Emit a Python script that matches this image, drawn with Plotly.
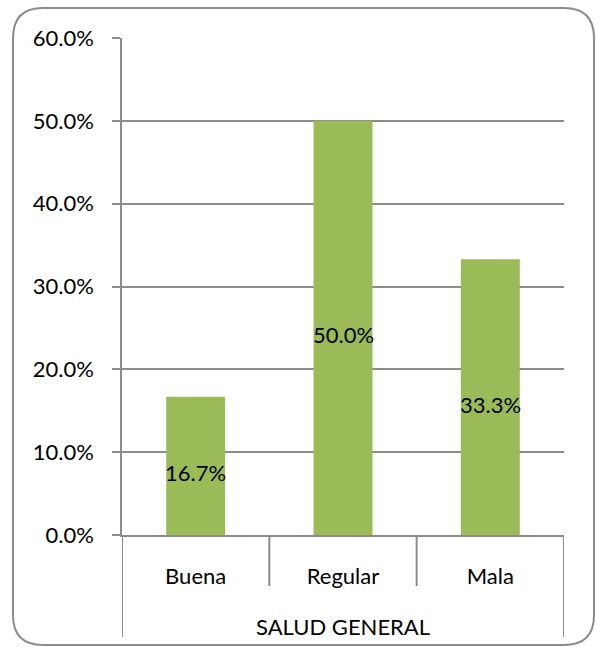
import plotly.graph_objects as go

group = "SALUD GENERAL"
categories = ["Buena", "Regular", "Mala"]
values = [16.7, 50.0, 33.3]
labels = ["16.7%", "50.0%", "33.3%"]
tick_vals = [0, 10, 20, 30, 40, 50, 60]
tick_text = ["0.0%", "10.0%", "20.0%", "30.0%", "40.0%", "50.0%", "60.0%"]

green = "#9BBB59"
grey = "#8C8C8C"
font = "Lato"
fsize = 22
plot_h = 497  # plot area height in px (647 - t - b)

fig = go.Figure()
fig.add_trace(go.Bar(x=list(range(len(categories))), y=values,
                     marker=dict(color=green, line=dict(width=0)),
                     width=0.4, hoverinfo="skip"))

# value labels centred in each bar, Excel style (allowed to overflow the bar)
for i, (v, t) in enumerate(zip(values, labels)):
    fig.add_annotation(x=i, y=v / 2, text=t, showarrow=False, yshift=-7,
                       font=dict(family=font, size=fsize, color="#000000"))

fig.update_layout(
    width=596, height=647,
    margin=dict(l=122, r=32, t=38, b=112, autoexpand=False),
    paper_bgcolor="white", plot_bgcolor="white",
    showlegend=False,
    font=dict(family=font, size=fsize, color="#000000"),
)
fig.update_xaxes(
    range=[-0.5, len(categories) - 0.5],
    tickvals=list(range(len(categories))), ticktext=categories,
    showline=True, linecolor=grey, linewidth=1.5,
    ticks="", ticklabelstandoff=21, showgrid=False, zeroline=False,
    tickfont=dict(family=font, size=fsize, color="#000000"),
)
fig.update_yaxes(
    range=[0, 60], tickvals=tick_vals, ticktext=tick_text,
    showgrid=True, gridcolor=grey, gridwidth=1.5,
    showline=True, linecolor=grey, linewidth=1.5,
    ticks="outside", ticklen=8, tickcolor=grey, tickwidth=1.5,
    ticklabelstandoff=14, zeroline=False,
    tickfont=dict(family=font, size=fsize, color="#000000"),
)

# category dividers below the axis: short between categories, long at the ends
n = len(categories)
for k in range(n + 1):
    depth = 102 if k in (0, n) else 51
    fig.add_shape(type="line", xref="x", yref="paper",
                  x0=k - 0.5, x1=k - 0.5, y0=0, y1=-depth / plot_h,
                  line=dict(color=grey, width=2))

# group label under the categories
fig.add_annotation(x=(n - 1) / 2, y=-92 / plot_h, xref="x", yref="paper",
                   text=group, showarrow=False, yanchor="middle",
                   font=dict(family=font, size=fsize, color="#000000"))

# rounded chart-area border, sized in pixels from the plot's bottom-left corner
border = ("M -79,527 L 442,527 Q 472,527 472,497 L 472,-80 Q 472,-110 442,-110 "
          "L -79,-110 Q -109,-110 -109,-80 L -109,497 Q -109,527 -79,527 Z")
fig.add_shape(type="path", path=border, xref="paper", yref="paper",
              xsizemode="pixel", ysizemode="pixel", xanchor=0, yanchor=0,
              line=dict(color=grey, width=2), layer="below")

fig.write_html("out.html", config={"displayModeBar": False},
               post_script="document.body.style.margin='0';")
